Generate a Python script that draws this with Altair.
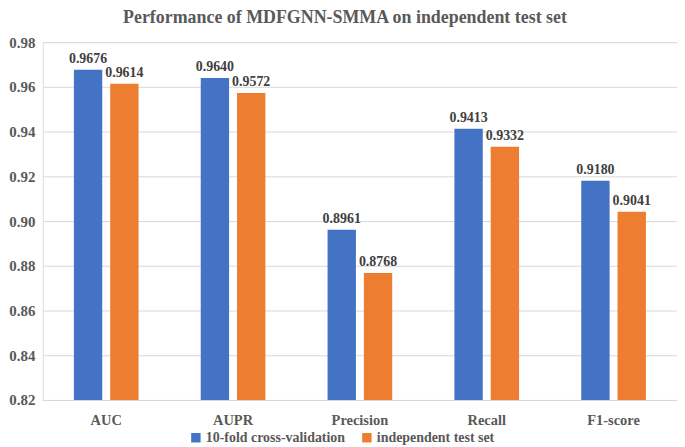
import altair as alt
import pandas as pd

metrics = ["AUC", "AUPR", "Precision", "Recall", "F1-score"]
series = ["10-fold cross-validation", "independent test set"]
cv_values = [0.9676, 0.9640, 0.8961, 0.9413, 0.9180]
test_values = [0.9614, 0.9572, 0.8768, 0.9332, 0.9041]

rows = []
for m, a, b in zip(metrics, cv_values, test_values):
    rows.append({"metric": m, "series": series[0], "value": a, "label": f"{a:.4f}"})
    rows.append({"metric": m, "series": series[1], "value": b, "label": f"{b:.4f}"})
df = pd.DataFrame(rows)

FONT = "Liberation Serif"

x = alt.X("metric:N", sort=metrics, title=None,
          scale=alt.Scale(paddingInner=0, paddingOuter=0),
          axis=alt.Axis(labelAngle=0, labelFont=FONT, labelFontSize=14.5, labelFontWeight="bold",
                        labelColor="#595959", ticks=False, domainColor="#D9D9D9", labelPadding=14))
xo = alt.XOffset("series:N", sort=series,
                 scale=alt.Scale(paddingInner=0.219, paddingOuter=0.857))
y = alt.Y("value:Q", title=None,
          scale=alt.Scale(domain=[0.82, 0.98], nice=False, zero=False),
          axis=alt.Axis(values=[0.82, 0.84, 0.86, 0.88, 0.90, 0.92, 0.94, 0.96, 0.98],
                        format=".2f", labelFont=FONT, labelFontSize=15, labelFontWeight="bold",
                        labelColor="#595959", ticks=False, domain=False, gridColor="#D9D9D9",
                        labelPadding=8))

color = alt.Color("series:N", sort=series,
                  scale=alt.Scale(domain=series, range=["#4472C4", "#ED7D31"]),
                  legend=alt.Legend(title=None, orient="none", legendX=147, legendY=391,
                                    direction="horizontal", symbolType="square", symbolSize=90,
                                    symbolStrokeWidth=0, labelFont=FONT, labelFontSize=14,
                                    labelFontWeight="bold", labelColor="#595959", columnPadding=14,
                                    labelOffset=3))

bars = alt.Chart(df).mark_bar(clip=True).encode(x=x, xOffset=xo, y=y, color=color)

text = alt.Chart(df).mark_text(baseline="bottom", dy=-4, font=FONT, fontSize=14,
                               fontWeight="bold", color="#404040").encode(
    x=x, xOffset=xo, y=y, text="label:N")

chart = (bars + text).properties(
    width=638, height=360,
    title=alt.TitleParams("Performance of MDFGNN-SMMA on independent test set",
                          font=FONT, fontSize=18, fontWeight="bold", color="#595959",
                          offset=8, anchor="middle", dx=-15),
    padding={"left": 0, "top": 0, "right": 0, "bottom": 0},
).configure_view(stroke=None).configure(background="white")

chart.save("out.html", embed_options={"renderer": "svg", "actions": False})
